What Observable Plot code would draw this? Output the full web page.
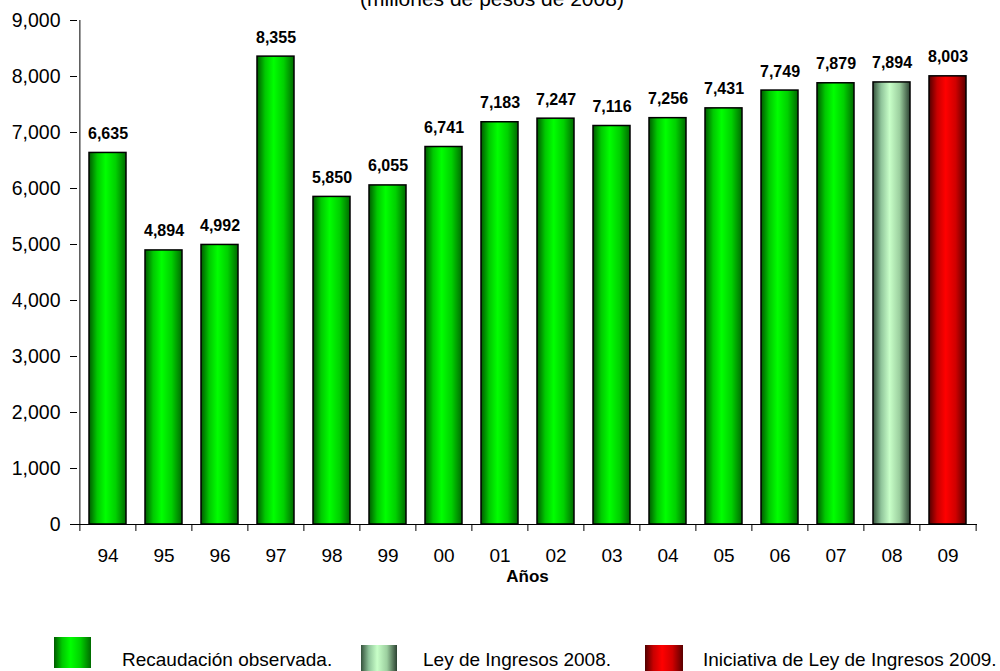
<!DOCTYPE html>
<html>
<head>
<meta charset="utf-8">
<script src="https://cdn.jsdelivr.net/npm/d3@7"></script>
<script src="https://cdn.jsdelivr.net/npm/@observablehq/plot@0.6"></script>
<style>
  body { margin: 0; background: #fff; font-family: "Liberation Sans", Arial, sans-serif; }
  #wrap { position: relative; width: 1000px; height: 671px; overflow: hidden; background: #fff; }
  #subtitle { position: absolute; left: 0; width: 984px; top: -12px; text-align: center;
              font-size: 21px; line-height: 21px; color: #000; white-space: nowrap; }
  #chart { position: absolute; left: 0; top: 0; }
  .sw { position: absolute; }
  .lt { position: absolute; font-size: 19px; line-height: 19px; color: #000; white-space: nowrap; }
  .g-obs { background: linear-gradient(to right, #005a00 0%, #00c800 22%, #00ff00 45%, #00d000 72%, #006a00 100%); }
  .g-ley { background: linear-gradient(to right, #34513b 0%, #8fc49a 22%, #c8ffc8 45%, #9ccf9f 72%, #2c4232 100%); }
  .g-ini { background: linear-gradient(to right, #500000 0%, #c80000 22%, #ff0000 45%, #d00000 72%, #5a0000 100%); }
</style>
</head>
<body>
<div id="wrap">
  <div id="chart"></div>
  <div id="subtitle">(millones de pesos de 2008)</div>
  <div class="sw g-obs" style="left:54px;top:637px;width:37px;height:31px;"></div>
  <div class="lt" style="left:122px;top:650px;">Recaudación observada.</div>
  <div class="sw g-ley" style="left:361px;top:645px;width:36px;height:26px;"></div>
  <div class="lt" style="left:423px;top:650px;">Ley de Ingresos 2008.</div>
  <div class="sw g-ini" style="left:645px;top:645px;width:38px;height:26px;"></div>
  <div class="lt" style="left:703px;top:650px;">Iniciativa de Ley de Ingresos 2009.</div>
</div>
<script>
// ---- data ----
const years = ["94","95","96","97","98","99","00","01","02","03","04","05","06","07","08","09"];
const values = [6635, 4894, 4992, 8355, 5850, 6055, 6741, 7183, 7247, 7116, 7256, 7431, 7749, 7879, 7894, 8003];
const seriesType = ["obs","obs","obs","obs","obs","obs","obs","obs","obs","obs","obs","obs","obs","obs","ley","ini"];
const yTicks = [0, 1000, 2000, 3000, 4000, 5000, 6000, 7000, 8000, 9000];
const xTitle = "Años";

const data = years.map((y, i) => ({year: y, value: values[i], type: seriesType[i]}));
const fmt = d3.format(",");
const halfStep = 900 / 16 / 2;

const chart = Plot.plot({
  width: 1000,
  height: 600,
  marginTop: 20,
  marginBottom: 76,
  marginLeft: 77,
  marginRight: 23,
  style: {color: "#000", background: "transparent", fontFamily: "'Liberation Sans', Arial, sans-serif", overflow: "visible"},
  x: {domain: years, paddingInner: 0.34, paddingOuter: 0.17},
  y: {domain: [0, 9000]},
  color: {type: "identity"},
  marks: [
    Plot.barY(data, {x: "year", y: "value", fill: d => `url(#grad-${d.type})`, stroke: "#000", strokeWidth: 1.5}),
    Plot.text(data, {x: "year", y: "value", text: d => fmt(d.value), dy: -14, lineAnchor: "bottom",
      fontWeight: "bold", fontSize: 16, fill: "#000"}),
    Plot.ruleY([0], {stroke: "#000", strokeWidth: 1}),
    Plot.ruleX([years[0]], {x: d => d, y1: 0, y2: 9000, dx: -halfStep, stroke: "#000", strokeWidth: 1}),
    Plot.ruleX(years, {x: d => d, y1: 0, y2: -125, dx: -halfStep, stroke: "#000", strokeWidth: 1}),
    Plot.ruleX([years[years.length - 1]], {x: d => d, y1: 0, y2: -125, dx: halfStep, stroke: "#000", strokeWidth: 1}),
    Plot.axisY({ticks: yTicks, tickSize: 7, tickPadding: 10, tickFormat: fmt, fontSize: 19.5, label: null}),
    Plot.axisX({tickSize: 0, tickPadding: 24, fontSize: 19, label: null}),
    Plot.text([xTitle], {frameAnchor: "bottom", dy: 57, lineAnchor: "bottom", fontWeight: "bold", fontSize: 17, fill: "#000"})
  ]
});

d3.select(chart).insert("defs", ":first-child").html(`
  <linearGradient id="grad-obs" x1="0" x2="1" y1="0" y2="0">
    <stop offset="0%" stop-color="#005a00"/><stop offset="22%" stop-color="#00c800"/>
    <stop offset="45%" stop-color="#00ff00"/><stop offset="72%" stop-color="#00d000"/>
    <stop offset="100%" stop-color="#006a00"/>
  </linearGradient>
  <linearGradient id="grad-ley" x1="0" x2="1" y1="0" y2="0">
    <stop offset="0%" stop-color="#34513b"/><stop offset="22%" stop-color="#8fc49a"/>
    <stop offset="45%" stop-color="#c8ffc8"/><stop offset="72%" stop-color="#9ccf9f"/>
    <stop offset="100%" stop-color="#2c4232"/>
  </linearGradient>
  <linearGradient id="grad-ini" x1="0" x2="1" y1="0" y2="0">
    <stop offset="0%" stop-color="#500000"/><stop offset="22%" stop-color="#c80000"/>
    <stop offset="45%" stop-color="#ff0000"/><stop offset="72%" stop-color="#d00000"/>
    <stop offset="100%" stop-color="#5a0000"/>
  </linearGradient>`);

document.getElementById("chart").appendChild(chart);
</script>
</body>
</html>
